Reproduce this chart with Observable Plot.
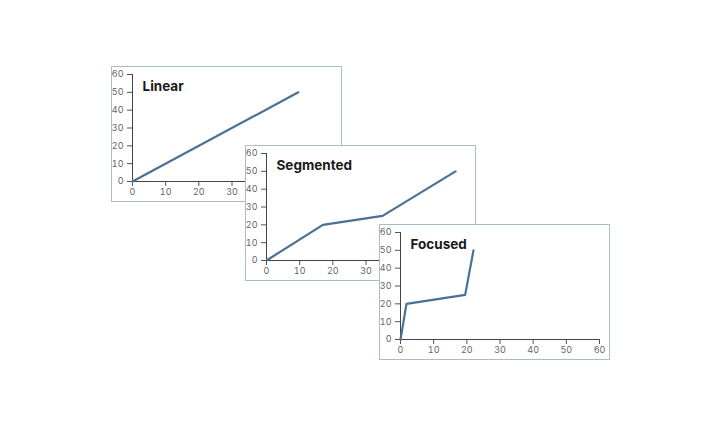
<!DOCTYPE html>
<html>
<head>
<meta charset="utf-8">
<script src="https://cdn.jsdelivr.net/npm/d3@7"></script>
<script src="https://cdn.jsdelivr.net/npm/@observablehq/plot@0.6"></script>
<style>
  html, body { margin: 0; padding: 0; background: #ffffff; }
  #root { position: relative; width: 720px; height: 426px; overflow: hidden; background: #fff; }
  .panel { position: absolute; width: 229px; height: 134px; border: 1px solid #a9bccd; background: #fff; }
  .panel svg { display: block; }
</style>
</head>
<body>
<div id="root"></div>
<script>
const panelTitles = ["Linear", "Segmented", "Focused"];
const linearX = [0, 50];
const linearY = [0, 50];
const segmentedX = [0, 17, 35, 57];
const segmentedY = [0, 20, 25, 50];
const focusedX = [0, 1.8, 19.5, 22];
const focusedY = [0, 20, 25, 50];
const tickValues = [0, 10, 20, 30, 40, 50, 60];

const series = [
  {x: linearX, y: linearY},
  {x: segmentedX, y: segmentedY},
  {x: focusedX, y: focusedY}
];
const panelLeft = [111, 245, 379];
const panelTop = [66, 145, 224];

const root = document.getElementById("root");
series.forEach((s, i) => {
  const data = s.x.map((x, j) => ({x, y: s.y[j]}));
  const chart = Plot.plot({
    width: 229,
    height: 134,
    marginLeft: 20,
    marginRight: 10,
    marginTop: 7,
    marginBottom: 20,
    style: {fontFamily: "Inter, 'Noto Sans', sans-serif", fontSize: "9px", color: "#555", background: "#fff"},
    x: {domain: [0, 60]},
    y: {domain: [0, 60]},
    marks: [
      Plot.axisX({ticks: tickValues, tickSize: 5, tickPadding: 2, label: null, fill: "#666"}),
      Plot.axisY({ticks: tickValues, tickSize: 5, tickPadding: 4, label: null, fill: "#666"}),
      Plot.ruleY([0], {stroke: "#444", strokeWidth: 1}),
      Plot.ruleX([0], {stroke: "#444", strokeWidth: 1}),
      Plot.line(data, {x: "x", y: "y", stroke: "#4a7195", strokeWidth: 2.2}),
      Plot.text([panelTitles[i]], {
        frameAnchor: "top-left", dx: 10, dy: 7, text: d => d,
        fontSize: 13.5, fontWeight: 700, fill: "#1a1a1a", textAnchor: "start", lineAnchor: "top"
      })
    ]
  });
  const div = document.createElement("div");
  div.className = "panel";
  div.style.left = panelLeft[i] + "px";
  div.style.top = panelTop[i] + "px";
  div.appendChild(chart);
  root.appendChild(div);
});
</script>
</body>
</html>
